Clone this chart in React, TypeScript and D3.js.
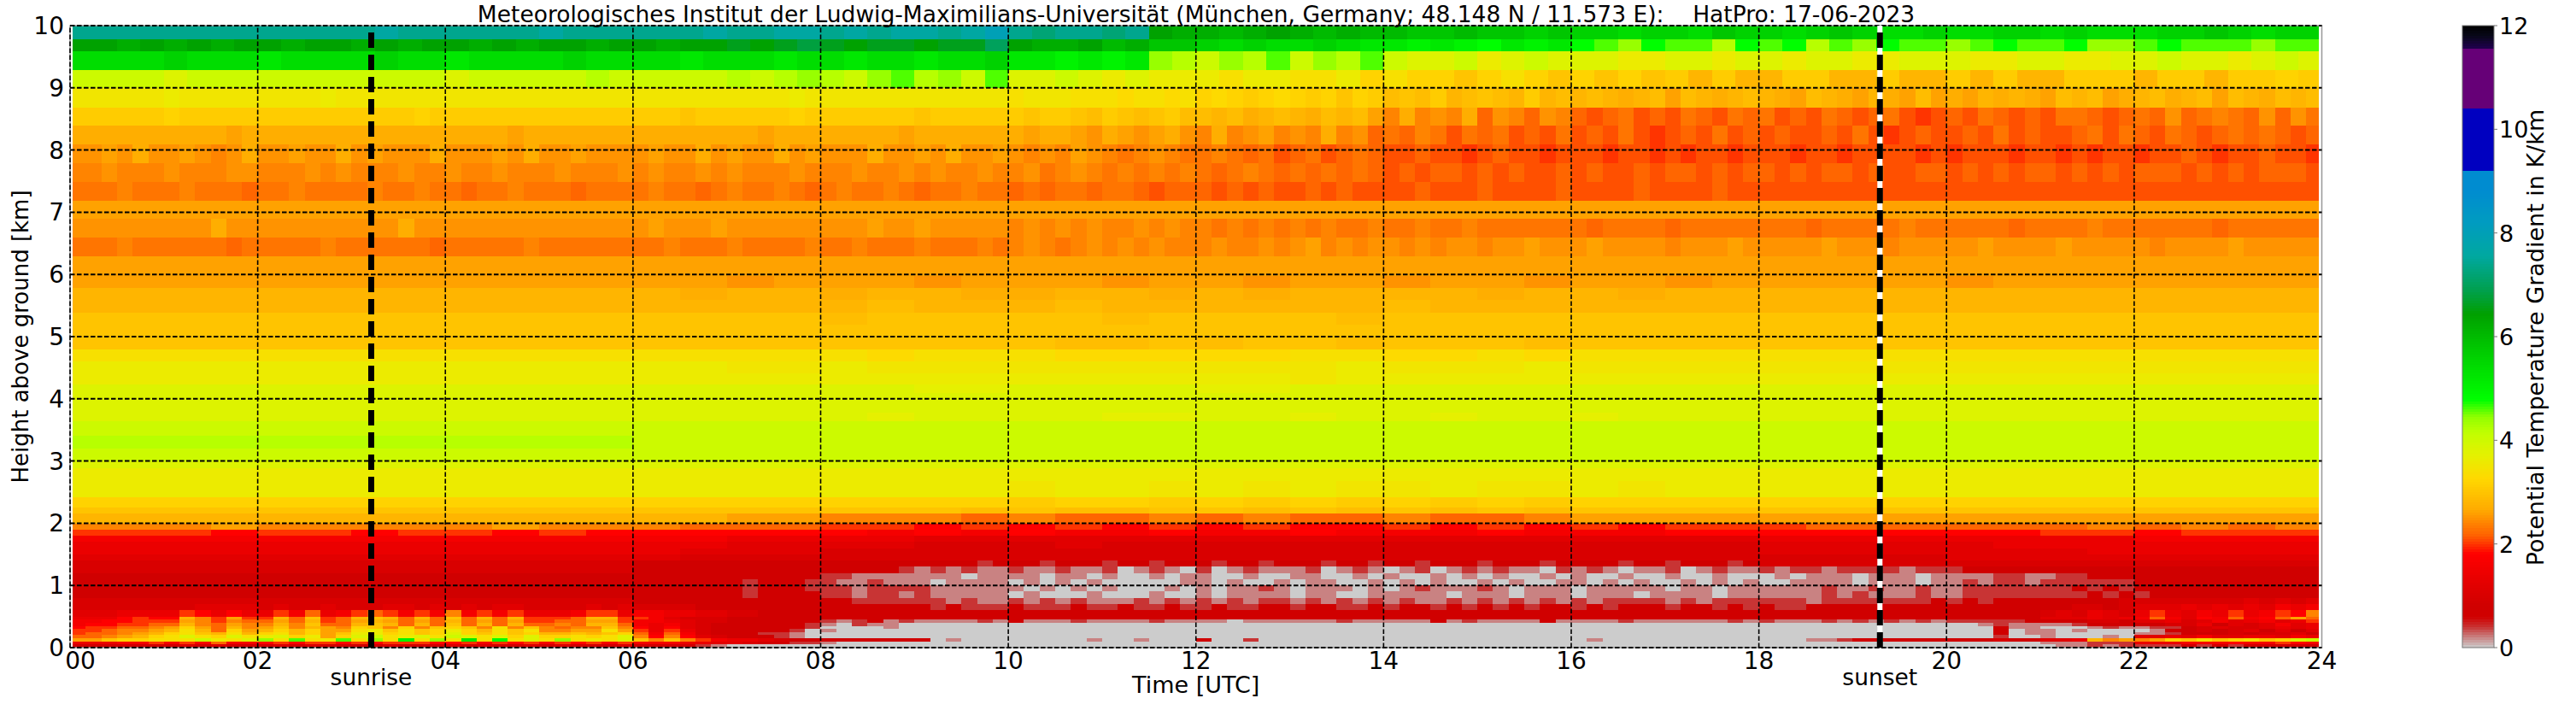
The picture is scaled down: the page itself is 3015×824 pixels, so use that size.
import React from 'react';
import * as d3 from 'd3';

const width = 3015;
const height = 824;
const plot = { left: 82, right: 2717.5, top: 30, bottom: 758 };
const bar = { left: 2882, right: 2919 };

const titleText =
  'Meteorologisches Institut der Ludwig-Maximilians-Universität (München, Germany; 48.148 N / 11.573 E):    HatPro: 17-06-2023';

const hourTicks = [0, 2, 4, 6, 8, 10, 12, 14, 16, 18, 20, 22, 24];
const heightTicks = [0, 1, 2, 3, 4, 5, 6, 7, 8, 9, 10];
const barTicks = [0, 2, 4, 6, 8, 10, 12];
const sunEvents = [
  { label: 'sunrise', hour: 3.21 },
  { label: 'sunset', hour: 19.29 },
];

// colour table (K/km)
const colorStops = [0, 0.25, 0.41, 0.6, 0.8, 1.33, 1.81, 2.16, 2.65, 3.26, 3.7, 4.14, 4.45, 4.78, 5.7, 6.44, 6.9, 7.55, 8.2, 8.8, 9.19, 9.2, 10.39, 10.4, 11.54, 11.55, 11.8, 12];
const colorValues = ['#cccccc', '#c87070', '#c83030', '#d00000', '#d00000', '#e80000', '#ff0000', '#ff6000', '#ffaa00', '#ffd800', '#e6f000', '#c0ff00', '#90ff00', '#00ff00', '#00cc00', '#00a000', '#00a050', '#00a8a0', '#009cc0', '#008cd0', '#008cd0', '#0000c0', '#0000c0', '#660077', '#660077', '#200050', '#080818', '#000000'];

// one character = one cell: position in this alphabet times 0.2 K/km, a capital letter adds 0.1
const cellCodes = '0123456789abcdefghijklmnopqrstuvwxyz_~^:!';
const dataStart = 0.025;
const dataEnd = 23.965;

// retrieval level edges in km, top to bottom
const heightEdges = [
  10, 9.78, 9.59, 9.29, 9.0, 8.68, 8.39, 8.09, 7.79, 7.49, 7.18, 6.89, 6.59, 6.29, 5.98, 5.78, 5.59, 5.38, 5.19, 4.99,
  4.79, 4.6, 4.41, 4.23, 4.09, 3.98, 3.78, 3.64, 3.41, 3.2, 2.99, 2.88, 2.68, 2.42, 2.25, 2.16, 1.99, 1.9, 1.8, 1.7,
  1.6, 1.5, 1.4, 1.3, 1.2, 1.1, 1.0, 0.9, 0.8, 0.7, 0.6, 0.5, 0.45, 0.4, 0.35, 0.3, 0.25, 0.2, 0.15, 0.1, 0.05, 0,
];

// one row per level, each row has four blocks of six hours (00-06, 06-12, 12-18, 18-24)
const gradientRows = [
  ['~~~~~~~~~~~~~^~~~~~~^~~~', '~~~^~~^^~^~^^~^!~_~~_~wv', 'vuvwvuvuuttuttstssrssrts', 'srstsrrsrrssrsrrrsstsrss'],
  ['wwvwvwvwwvwwvwvwwvwvwwvw', 'wvwwxwxyxwxxwxxzwvvwuvtt', 'srsrrsrqqpqpoqpqonmonnlo', 'nolnmonnmnonnommnonnnmnn'],
  ['rrrrsrrrqrrrrsrrqrrrrsrr', 'rrqrrrqrrqrrqrrsqqpqpqml', 'kmlnkmlnkjjkijkjjjiijjij', 'jijjiijjjiijjiijjkjjijkj'],
  ['kkkkjkkkkkkkkkkkjkkkkklk', 'kkkklklmlkmnlmknjjkjijii', 'ihiihhighggfghgfgfgfFeFe', 'eFFeeFeeFeFeeFFFeFFeFFgF'],
  ['HHHHHHiHHHHHHHHHiHHHHHHHHHHHHHHHHHHH', 'HHHHHHHHHHiHHHHHHHHHHHHHhHHHhhhGhhGh', 'gGgFgGgFgfgFEfEFeEfEeFeEeEeDeEdEeDeE', 'eDdEeDdeDdEdDdeDeDdEeEdDeEDeEdEeDEeE'],
  ['FFFFFFgFFFFFFFFFFFFFFFgFFFFFFFFFFFFF', 'FFFfFFFFFFgFFFFFFFfFFFFFFfFFfEFfEfFE', 'EeEDeEeDEeEdcDcCcDbCcbCcbAbBAbABbABb', 'BAbABbAbBAaAbABbAbABBbAbBbCbBcBbCbCB'],
  ['DDDDDDDDDDdDDDDDDDDDDDDDDDDDdDDDDDDD', 'DDDDDDDDdDDDDDDDDdDDDDDDDdDDdCDdCdDC', 'cDcCdcCcDcCbBbcBABbBAbABAbABAaAbABAb', 'AbAAbABAaAbAAbABAbAAbBABbABbAbBbBbAb'],
  ['CCdCDCCdCcCDCCdCCDCdCCCDCCCdCDCCdCCC', 'CdCCDCdCCDCdCCCDCCdCDCCdCcCcdCcBcCcB', 'BcBbBAbBAbBbAAbAAaAbAAaAAAaAAaAaAAaA', 'AAaAAaAAAAaAaAAAaAAaAaAAaAAbAaAAbAAa'],
  ['ccCcccCcccCCcccCcCcccCccCccCcccCcccC', 'cCccCcCcccCcccCccCcCccCccCBcCcBcBcBc', 'BbBcBbBbBbBbAbAbbAbAbAAbAbAAbAbbAbAb', 'bAbAbbAbAAbbAbAbAbbAbAbAbbbAbAbAbbbA'],
  ['BBBcBBBcBBBbBBcBBBBcBBcBBbBBcBBBbBBB', 'BcBBbBcBBcBbBcBBcBbBBcBBbBbBBbBBbAbb', 'bAbAbAAbAbAAAAbAAAbAAAAbAAAAbAAAAbAA', 'A'],
  ['d', 'd', 'd', 'd'],
  ['CCCCCCCCCDCCCCCCCCCCCDCCCCCCCCCCCCCC', 'CdCCCdCCCCCCCCCdCCdCCCCCcCcCcCccCcCc', 'cBcBcBcBcBBcBBcBBcBBBBBBBbBBBBbBBBBB', 'BBBbBBBBBcBBBBBBbBBBBcBBBBBBBbBBBBBB'],
  ['BBBcBBBBBBbBBBBBcBBBBBBbBBBBBcBBBBBB', 'BBcBBBcBBBBcBBcBBBcBBBcBcCcBcCcCcCcc', 'cCccCcCdcCcCCcCcCCcCCdCCCdCCCCcCCCdC', 'CCCCdCCCcCCCCCdCCCCdCCCCCcCCCCdCCCCC'],
  ['d', 'd', 'd', 'd'],
  ['d', 'ddCdddCdddCd', 'dCddCddCddCd', 'ddddCddddddd'],
  ['e', 'eDeeDeeDDeeD', 'eDeeeeDeeDee', 'e'],
  ['e', 'eeeeeEeeeEee', 'eeeeEeeeeeee', 'e'],
  ['f', 'ffffEfffffEf', 'fffEffffffff', 'f'],
  ['f', 'f', 'f', 'f'],
  ['f', 'fffffffffEEf', 'EffEfffEffff', 'f'],
  ['h', 'hhhhhGhhhGGG', 'GGhhGGhGhhhh', 'h'],
  ['i', 'iiHHiHHHHHHH', 'HHHiHHHiHHHH', 'H'],
  ['i', 'i', 'iiHiiiiiiiii', 'i'],
  ['j', 'jjjjjjIIjjjj', 'IIjjjjjjjjjj', 'j'],
  ['j', 'j', 'j', 'j'],
  ['j', 'j', 'j', 'j'],
  ['j', 'jjjjjIjjjjII', 'jjIjjIjjIjjj', 'j'],
  ['k', 'k', 'k', 'k'],
  ['l', 'k', 'k', 'k'],
  ['k', 'k', 'k', 'k'],
  ['j', 'j', 'j', 'j'],
  ['i', 'i', 'i', 'i'],
  ['i', 'iiiiiiiiHiiH', 'iHiHHiHHiHii', 'i'],
  ['g', 'ggggggggFggF', 'gFgFgFgFgggg', 'g'],
  ['f', 'fffffffEfEEf', 'fEfEfEfEffff', 'f'],
  ['e', 'eeddcccbcbbc', 'bcbbcbbcdddd', 'd'],
  ['cccdcccccdcc', 'cbbbaa9a9a9a', '9a99a9a9a9aa', 'abbbbbbcbcbc'],
  ['aaa9aa9aa9a9', '999998989889', '889888988899', '999999aa9aaa'],
  ['8', '887777666666', '666666666666', '777777778888'],
  ['7', '776666555655', '5', '666667777777'],
  ['7', '766655555555', '5', '666666677777'],
  ['6', '655555555555', '5', '555566666666'],
  ['5', '444444444444444444444424432443244234', '423424432442342434244324434243243424', '5'],
  ['5', '444444444444443332121211211211201210', '201211120121012012121102121011201211', '212212222122234444444444444444444444'],
  ['4', '444444443344221111111011110110100101', '100100110010100101010010100100100100', '010111011101111221122444444444444444'],
  ['4', '444444424442211211101111010101000001', '101001011001010100101001101010010101', '001111011101121221222222344444444444'],
  ['4', '444444424442221222211111101010100010', '101121011101012111210111011111011011', '111121121121122222223232344444444444'],
  ['4', '444444424443221221211111010001000100', '101111011001111101110111011101111011', '111121211121122222222323234444444444'],
  ['5', '444444444444442222221211212121112121', '212122121212121121212121212222121222', '222122222223232444444445555555565656'],
  ['555555556666565565556656565665555656', '555544434444444444424222322232232232', '232233233223233232323233232333233232', '322344444444444444445545666767676878'],
  ['6667777a97977a8b78aba8a8c8a8a7778aa7', '887766554444444444444444444444444444', '4', '4444444444444444445657657a7687a78a9c'],
  ['7779a99ecadaaebfabefebebfbebeaaabeea', 'a86555444444444444444444444444444444', '4', '4444444444444444446667678b8698b89bdb'],
  ['8899aaadcacbbdbeabdedbdbebdbdaabbdda', '887655444433212312111121311121111211', '110111111211111312111131111211111121', '21112121212122222344455466756867867a'],
  ['899aabbecbdccecfbbefebebfbebebbcbeeb', '878654444432102110000000000000000000', '0', '000000000000001211112444445574656867'],
  ['9aabbcdgdbecdfcedcgfcgcfgfchcfcbccfc', '979654444432000010000000000000000000', '0', '000000000000000311000121122456556767'],
  ['aabccdehebgdegegddhifhfgigehfhccddhd', 'a7a754444320100000000000000000000000', '0', '000000000000000401101000013454564646'],
  ['abbcdeghfeheghegdfiighfgjgfhfgeefefg', 'b8b854442210000000000000000000000000', '0', '000000000000000401100000112344545564'],
  ['bbcdeghjhgjhijgidgjkhijhkjhjgjgghghj', 'c9c965443210000000000000000000000000', '0', '000000000000000200100010667686677687'],
  ['ddfgghhhkihjmhnhinhmhphmhqhohjhmhihj', 'fcfca8776543333333301000000001001000', '300200000000000000000000010000000000', '000112343444444544667ecdcdgfhfghfgjk'],
  ['77788a8a8b889a9aa9a9aaa99a8a9a8a9a8a', '888776654322100000000000000000000000', '0', '000000000000000000111222777888988a98'],
  ['444444454544454544445444545445454445', '444321000000000000000000000000000000', '0', '000000000000000000011212222323233433'],
];

const hourScale = d3.scaleLinear().domain([0, 24]).range([plot.left, plot.right]);
const heightScale = d3.scaleLinear().domain([0, 10]).range([plot.bottom, plot.top]);
const barScale = d3.scaleLinear().domain([0, 12]).range([plot.bottom, plot.top]);
const colorScale = d3.scaleLinear<string>().domain(colorStops).range(colorValues).clamp(true);

const barSteps = d3.range(0, 12, 0.05);

function cellValue(c: string) {
  const lower = c.toLowerCase();
  return cellCodes.indexOf(lower) * 0.2 + (c !== lower ? 0.1 : 0);
}

// expand the coded rows into rectangles
function buildCells() {
  const cells: { x0: number; x1: number; y0: number; y1: number; value: number }[] = [];
  gradientRows.forEach((blocks, r) => {
    const y0 = Math.round(heightScale(heightEdges[r]));
    const y1 = Math.round(heightScale(heightEdges[r + 1]));
    blocks.forEach((block, b) => {
      const chars = block.split('');
      chars.forEach((c, i) => {
        const h0 = Math.max(dataStart, b * 6 + (i / chars.length) * 6);
        const h1 = Math.min(dataEnd, b * 6 + ((i + 1) / chars.length) * 6);
        cells.push({
          x0: Math.round(hourScale(h0)),
          x1: Math.round(hourScale(h1)),
          y0,
          y1,
          value: cellValue(c),
        });
      });
    });
  });
  return cells;
}

const fontFamily = '"DejaVu Sans", sans-serif';
const gridDash = '5.5 2.5';
const tickSize = 28;

export default function App() {
  const cells = buildCells();
  return (
    <svg
      width={width}
      height={height}
      style={{ position: 'absolute', left: 0, top: 0, background: '#fff' }}
      fontFamily={fontFamily}
    >
      <g shapeRendering="crispEdges">
        {cells.map((d, i) => (
          <rect key={i} x={d.x0} y={d.y0} width={d.x1 - d.x0} height={d.y1 - d.y0} fill={colorScale(d.value)} />
        ))}
      </g>

      {/* spines */}
      <rect x={plot.left} y={plot.top} width={plot.right - plot.left} height={plot.bottom - plot.top} fill="none" stroke="#999" strokeWidth={1.5} />

      {/* grid */}
      {heightTicks.map((t) => (
        <line key={t} x1={plot.left} x2={plot.right} y1={heightScale(t)} y2={heightScale(t)} stroke="#000" strokeWidth={2} strokeDasharray={gridDash} />
      ))}
      {hourTicks.slice(0, -1).map((t) => (
        <line key={t} x1={hourScale(t)} x2={hourScale(t)} y1={plot.bottom} y2={plot.top} stroke="#000" strokeWidth={1.6} strokeDasharray={gridDash} />
      ))}

      {/* sunrise and sunset */}
      {sunEvents.map((d) => (
        <g key={d.label}>
          {d.label === 'sunset' && (
            <line x1={hourScale(d.hour)} x2={hourScale(d.hour)} y1={plot.bottom} y2={plot.top} stroke="#fff" strokeWidth={6} />
          )}
          <line x1={hourScale(d.hour)} x2={hourScale(d.hour)} y1={plot.bottom} y2={plot.top} stroke="#000" strokeWidth={7} strokeDasharray="18 8" />
          <text x={hourScale(d.hour)} y={802} textAnchor="middle" fontSize={26.5}>
            {d.label}
          </text>
        </g>
      ))}

      {/* ticks */}
      {hourTicks.map((t) => (
        <text key={t} x={t === 0 ? 94 : hourScale(t)} y={783} textAnchor="middle" fontSize={tickSize}>
          {d3.format('02d')(t)}
        </text>
      ))}
      {heightTicks.map((t) => (
        <text key={t} x={75} y={heightScale(t) + 10} textAnchor="end" fontSize={tickSize}>
          {t}
        </text>
      ))}

      <text x={hourScale(12)} y={811} textAnchor="middle" fontSize={27}>
        Time [UTC]
      </text>
      <text transform={`translate(33,394) rotate(-90)`} textAnchor="middle" fontSize={26}>
        Height above ground [km]
      </text>
      <text x={1400} y={26} textAnchor="middle" fontSize={26.5} style={{ whiteSpace: 'pre' }}>
        {titleText}
      </text>

      {/* colour bar */}
      <g shapeRendering="crispEdges">
        {barSteps.map((v) => (
          <rect
            key={v}
            x={bar.left}
            width={bar.right - bar.left}
            y={Math.round(barScale(v + 0.05))}
            height={Math.round(barScale(v)) - Math.round(barScale(v + 0.05))}
            fill={colorScale(v + 0.025)}
          />
        ))}
      </g>
      <rect x={bar.left} y={plot.top} width={bar.right - bar.left} height={plot.bottom - plot.top} fill="none" stroke="#777" strokeWidth={1} />
      {barTicks.map((t) => (
        <g key={t}>
          <line x1={bar.right} x2={bar.right + 4} y1={barScale(t)} y2={barScale(t)} stroke="#777" strokeWidth={1} />
          <text x={bar.right + 6} y={barScale(t) + 10} fontSize={27}>
            {t}
          </text>
        </g>
      ))}
      <text transform={`translate(2977,395) rotate(-90)`} textAnchor="middle" fontSize={27}>
        Potential Temperature Gradient in K/km
      </text>
    </svg>
  );
}
